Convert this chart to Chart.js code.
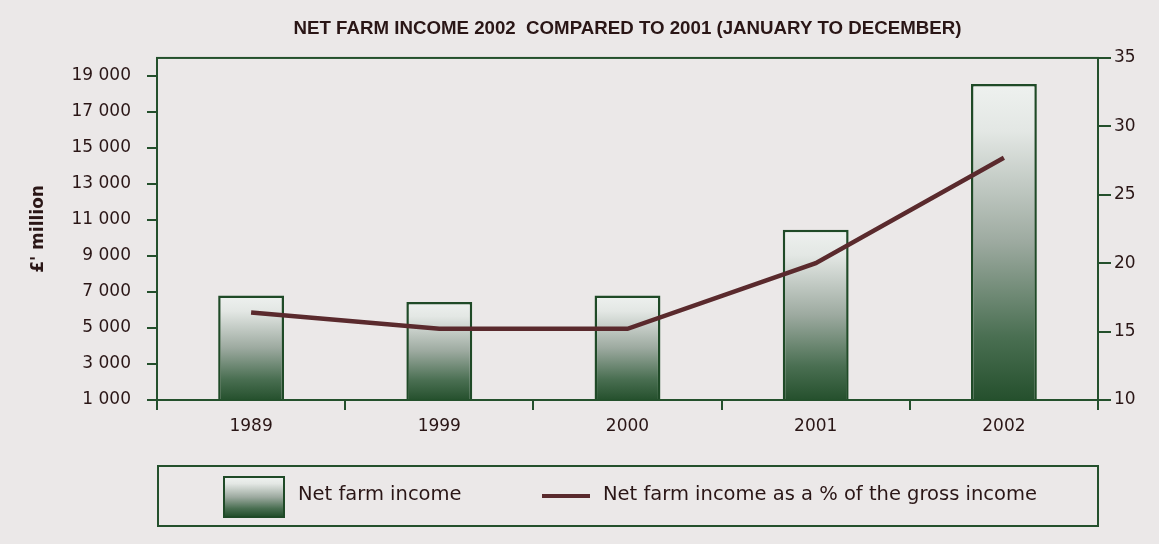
<!DOCTYPE html>
<html lang="en">
<head>
  <meta charset="UTF-8" />
  <title>Net farm income 2002</title>
  <script src="https://cdn.jsdelivr.net/npm/chart.js"></script>
  <style>
    body { margin: 0; background: #ebe8e8; }
    #wrap { position: relative; width: 1159px; height: 544px; }
    #legend {
      position: absolute; left: 157px; top: 465px; width: 938px; height: 58px;
      border: 2px solid #24502c; font-family: 'DejaVu Sans', sans-serif; font-size: 19.5px; color: #2a1616;
    }
    .swatch-bar {
      position: absolute; left: 64px; top: 9px; width: 58px; height: 38px; border: 2px solid #1f4a27;
      background: linear-gradient(#eef1ef 0%, #e3e7e4 15%, #9daaa0 50%, #4a6f52 80%, #25502d 100%);
    }
    .swatch-line { position: absolute; left: 383px; top: 27px; width: 48px; height: 4px; background: #5a2a2d; }
    .lbl { position: absolute; top: 15px; white-space: nowrap; }
  </style>
</head>
<body>
<div id="wrap">
  <canvas id="farmChart"></canvas>
  <div id="legend">
    <div class="swatch-bar"></div>
    <span class="lbl" id="lbl0" style="left:139px"></span>
    <div class="swatch-line"></div>
    <span class="lbl" id="lbl1" style="left:444px"></span>
  </div>
</div>

<script>
  // data
  const years = ['1989', '1999', '2000', '2001', '2002'];
  const netIncome = [6800, 6450, 6800, 10450, 18550];      // £ million
  const incomeShare = [16.4, 15.2, 15.2, 20.0, 27.7];      // % of gross income
  const leftTicks = [1000, 3000, 5000, 7000, 9000, 11000, 13000, 15000, 17000, 19000];
  const rightTicks = [10, 15, 20, 25, 30, 35];
  const seriesLabels = ['Net farm income', 'Net farm income as a % of the gross income'];
  const titleText = 'NET FARM INCOME 2002  COMPARED TO 2001 (JANUARY TO DECEMBER)';
  const yTitle = "£' million";

  const green = '#24502c';
  const ink = '#2a1616';

  document.getElementById('lbl0').textContent = seriesLabels[0];
  document.getElementById('lbl1').textContent = seriesLabels[1];

  const spaced = v => String(v).replace(/\B(?=(\d{3})+(?!\d))/g, ' ');

  // each bar gets its own light-to-green fade
  function barFill(c) {
    const chart = c.chart;
    if (!chart.chartArea || c.type !== 'data') return '#9daaa0';
    const y = chart.scales.y;
    const top = y.getPixelForValue(c.raw);
    const bottom = y.getPixelForValue(y.min);
    const g = chart.ctx.createLinearGradient(0, top, 0, bottom);
    g.addColorStop(0, '#eef1ef');
    g.addColorStop(0.15, '#e3e7e4');
    g.addColorStop(0.5, '#9daaa0');
    g.addColorStop(0.8, '#4a6f52');
    g.addColorStop(1, '#25502d');
    return g;
  }

  const frame = {
    id: 'frame',
    afterDraw(chart) {
      const { ctx, chartArea: a } = chart;
      ctx.save();
      ctx.strokeStyle = green;
      ctx.lineWidth = 2;
      ctx.strokeRect(a.left, a.top, a.right - a.left, a.bottom - a.top);
      ctx.restore();
    }
  };

  Chart.defaults.font.family = "'DejaVu Sans', sans-serif";
  Chart.defaults.color = ink;

  new Chart(document.getElementById('farmChart'), {
    type: 'bar',
    data: {
      labels: years,
      datasets: [
        {
          type: 'line',
          label: seriesLabels[1],
          data: incomeShare,
          yAxisID: 'y1',
          borderColor: '#5a2a2d',
          borderWidth: 4.5,
          pointRadius: 0,
          tension: 0,
          order: 0
        },
        {
          label: seriesLabels[0],
          data: netIncome,
          yAxisID: 'y',
          backgroundColor: barFill,
          borderColor: '#1f4a27',
          borderWidth: 2.5,
          barPercentage: 0.35,
          categoryPercentage: 1,
          order: 1
        }
      ]
    },
    options: {
      responsive: true,
      maintainAspectRatio: false,
      animation: false,
      layout: { padding: { left: 20, right: 0, top: 0, bottom: 0 } },
      plugins: {
        legend: { display: false },
        tooltip: { enabled: false },
        title: {
          display: true,
          fullSize: false,
          text: titleText,
          color: ink,
          font: { family: "'Liberation Sans', sans-serif", size: 18.7, weight: 'bold' },
          padding: { top: 18, bottom: 17.5 }
        }
      },
      scales: {
        x: {
          grid: { offset: true, drawOnChartArea: false, tickLength: 10, color: green, lineWidth: 2 },
          border: { color: green, width: 2 },
          ticks: { font: { size: 17 }, padding: 6 },
          afterFit: s => { s.height = 144; }
        },
        y: {
          position: 'left',
          min: 1000,
          max: 20000,
          afterBuildTicks: s => { s.ticks = leftTicks.map(v => ({ value: v })); },
          grid: { drawOnChartArea: false, tickLength: 10, color: green, lineWidth: 2 },
          border: { color: green, width: 2 },
          ticks: { font: { size: 17 }, padding: 16, callback: v => spaced(v) },
          title: { display: true, text: yTitle, font: { size: 17, weight: 'bold' }, padding: { top: 8, bottom: 0 } },
          afterFit: s => { s.width = 137; }
        },
        y1: {
          position: 'right',
          min: 10,
          max: 35,
          afterBuildTicks: s => { s.ticks = rightTicks.map(v => ({ value: v })); },
          grid: { drawOnChartArea: false, tickLength: 13, color: green, lineWidth: 2 },
          border: { color: green, width: 2 },
          ticks: { font: { size: 17 }, padding: 3 },
          afterFit: s => { s.width = 61; }
        }
      }
    },
    plugins: [frame]
  });
</script>
</body>
</html>
